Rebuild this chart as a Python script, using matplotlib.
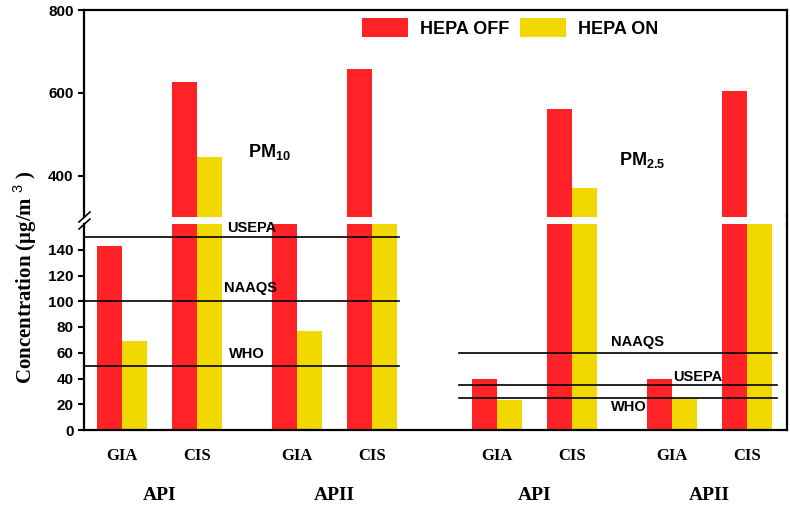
import matplotlib.pyplot as plt
import numpy as np
import matplotlib.transforms as mtransforms
from matplotlib.lines import Line2D

plt.rcParams['mathtext.fontset'] = 'custom'
plt.rcParams['mathtext.rm'] = 'Liberation Sans'
plt.rcParams['mathtext.bf'] = 'Liberation Sans:bold'

# data
sites = ['GIA', 'CIS', 'GIA', 'CIS', 'GIA', 'CIS', 'GIA', 'CIS']
groups = ['API', 'APII', 'API', 'APII']
xpos = [0, 3, 7, 10, 15, 18, 22, 25]
hepa_off = [143, 625, 180, 658, 40, 561, 40, 605]
hepa_on = [69, 444, 77, 250, 23, 371, 24, 200]

pm10_names = ['USEPA', 'NAAQS', 'WHO']
pm10_limits = [150, 100, 50]
pm25_names = ['NAAQS', 'USEPA', 'WHO']
pm25_limits = [60, 35, 25]

red = '#FF2226'
yellow = '#F0D800'
W, H = 790, 505

fig = plt.figure(figsize=(7.9, 5.05), dpi=100)
def frac(x0, y0, x1, y1):
    return [x0 / W, 1 - y1 / H, (x1 - x0) / W, (y1 - y0) / H]

ax_top = fig.add_axes(frac(84, 10, 787, 217))
ax_low = fig.add_axes(frac(84, 224, 787, 430))

for ax in (ax_top, ax_low):
    ax.bar(np.array(xpos) - 0.5, hepa_off, width=1, color=red)
    ax.bar(np.array(xpos) + 0.5, hepa_on, width=1, color=yellow)
    ax.set_xlim(-1.52, 26.6)
    for s in ax.spines.values():
        s.set_linewidth(1.6)
    ax.tick_params(axis='y', direction='out', length=4, width=1.5)

ax_top.set_ylim(300, 800)
ax_top.set_yticks([400, 600, 800])
ax_top.set_xticks([])
ax_top.spines['bottom'].set_visible(False)

ax_low.set_ylim(0, 160)
ax_low.set_yticks(np.arange(0, 160, 20))
ax_low.spines['top'].set_visible(False)
ax_low.set_xticks(xpos)
ax_low.set_xticklabels(sites, family='Liberation Serif', fontweight='bold', fontsize=12)
ax_low.tick_params(axis='x', length=0, pad=13)

for ax in (ax_top, ax_low):
    for lab in ax.get_yticklabels():
        lab.set_fontfamily('Liberation Sans')
        lab.set_fontweight('bold')
        lab.set_fontsize(11)

# limit lines
for name, v in zip(pm10_names, pm10_limits):
    ax_low.plot([-1.52, 11.1], [v, v], color='black', lw=1.2)
for name, v in zip(pm25_names, pm25_limits):
    ax_low.plot([13.5, 26.2], [v, v], color='black', lw=1.2)

lab_kw = dict(family='Liberation Sans', fontweight='bold', fontsize=10.5, ha='center', va='center')
ax_low.text(5.2, 157, 'USEPA', **lab_kw)
ax_low.text(5.16, 110, 'NAAQS', **lab_kw)
ax_low.text(5.0, 59, 'WHO', **lab_kw)
ax_low.text(20.64, 68, 'NAAQS', **lab_kw)
ax_low.text(23.04, 41, 'USEPA', **lab_kw)
ax_low.text(20.28, 18, 'WHO', **lab_kw)

ax_top.text(5.9, 456, r'$\mathbf{PM_{10}}$', fontsize=13, ha='center', va='center')
ax_top.text(20.8, 437, r'$\mathbf{PM_{2.5}}$', fontsize=13, ha='center', va='center')

# group labels under the sites
trans = mtransforms.blended_transform_factory(ax_low.transData, fig.transFigure)
for i, g in enumerate(groups):
    xc = (xpos[2 * i] + xpos[2 * i + 1]) / 2
    fig.text(xc, 1 - 495 / H, g, transform=trans, ha='center', va='center',
             family='Liberation Serif', fontweight='bold', fontsize=14)

fig.text(25 / W, 1 - 277 / H, 'Concentration (\u03bcg/m$^{\\ 3}$ )', rotation=90,
         ha='center', va='center', family='Liberation Serif', fontweight='bold', fontsize=15)

# axis break marks and continuous right edge
fig.add_artist(Line2D([79 / W, 90 / W], [1 - 222 / H, 1 - 212 / H], color='black', lw=1.2))
fig.add_artist(Line2D([79 / W, 90 / W], [1 - 229 / H, 1 - 219 / H], color='black', lw=1.2))
fig.add_artist(Line2D([787 / W, 787 / W], [1 - 226 / H, 1 - 215 / H], color='black', lw=1.6))

leg = ax_top.legend(['HEPA OFF', 'HEPA ON'], loc='center', ncol=2, frameon=False,
                    bbox_to_anchor=(510 / W, 1 - 28 / H), bbox_transform=fig.transFigure,
                    handlelength=2.55, handleheight=1.2, handletextpad=0.65,
                    columnspacing=0.6, borderpad=0,
                    prop={'family': 'Liberation Sans', 'weight': 'bold', 'size': 13})

fig.savefig('out.png', dpi=100)
